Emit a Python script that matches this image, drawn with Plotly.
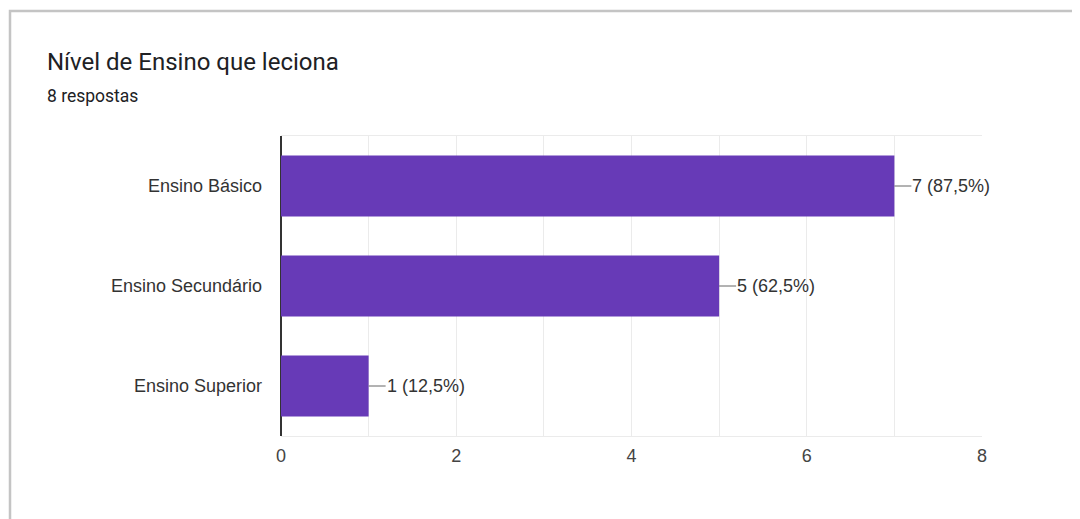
import plotly.graph_objects as go

categories = ["Ensino Básico", "Ensino Secundário", "Ensino Superior"]
counts = [7, 5, 1]
percent_labels = ["87,5%", "62,5%", "12,5%"]
x_ticks = [0, 2, 4, 6, 8]
title_text = "Nível de Ensino que leciona"
subtitle_text = "8 respostas"

W, H = 1080, 519
OFF = 8  # browser body margin
L, T = 281 - OFF, 136 - OFF
pw, ph = 701, 300
R, B = W - L - pw, H - T - ph


def px_x(x):
    return (x - OFF - L) / pw


def px_y(y):
    return 1 + (T - (y - OFF)) / ph


fig = go.Figure(
    go.Bar(
        x=counts,
        y=categories,
        orientation="h",
        marker=dict(color="#673ab7", line=dict(width=0)),
        width=0.61,
        hoverinfo="skip",
    )
)

for c, v, p in zip(categories, counts, percent_labels):
    fig.add_annotation(
        x=v, y=c, xref="x", yref="y",
        text=f"{v} ({p})",
        showarrow=True, arrowhead=0, arrowwidth=1, arrowcolor="#666",
        ax=17, ay=0, axref="pixel", ayref="pixel",
        xanchor="left", yanchor="middle",
        font=dict(family="Liberation Sans, Arial", size=18, color="#333"),
        borderpad=0,
    )

fig.add_annotation(
    x=px_x(45), y=px_y(62), xref="paper", yref="paper",
    text=title_text, showarrow=False, xanchor="left", yanchor="middle",
    font=dict(family="Roboto", size=24, color="#202124"),
)
fig.add_annotation(
    x=px_x(45), y=px_y(96), xref="paper", yref="paper",
    text=subtitle_text, showarrow=False, xanchor="left", yanchor="middle",
    font=dict(family="Roboto", size=17.5, color="#202124"),
)

# card border
fig.add_shape(
    type="path", xref="paper", yref="paper",
    path=f"M {px_x(10)} {px_y(560)} L {px_x(10)} {px_y(11)} L {px_x(1100)} {px_y(11)}",
    line=dict(color="#c4c4c4", width=2.5),
)

fig.update_layout(
    width=W, height=H,
    margin=dict(l=L, r=R, t=T, b=B),
    paper_bgcolor="white", plot_bgcolor="white",
    showlegend=False,
    xaxis=dict(
        range=[0, 8],
        tickvals=x_ticks,
        ticktext=[str(t) for t in x_ticks],
        showgrid=True, gridcolor="#ebebeb", gridwidth=1,
        minor=dict(dtick=1, showgrid=True, gridcolor="#ebebeb", gridwidth=1),
        zeroline=True, zerolinecolor="#333", zerolinewidth=1.5,
        showline=True, linecolor="#ebebeb", linewidth=1, mirror=True,
        tickfont=dict(family="Liberation Sans, Arial", size=18, color="#444"),
        ticks="", ticklabelstandoff=3,
        fixedrange=True,
    ),
    yaxis=dict(
        categoryorder="array", categoryarray=categories,
        autorange="reversed",
        showgrid=False, zeroline=False, showline=False,
        tickfont=dict(family="Liberation Sans, Arial", size=18, color="#333"),
        ticks="", ticklabelstandoff=18,
        fixedrange=True,
    ),
)

fig.write_html("out.html")
